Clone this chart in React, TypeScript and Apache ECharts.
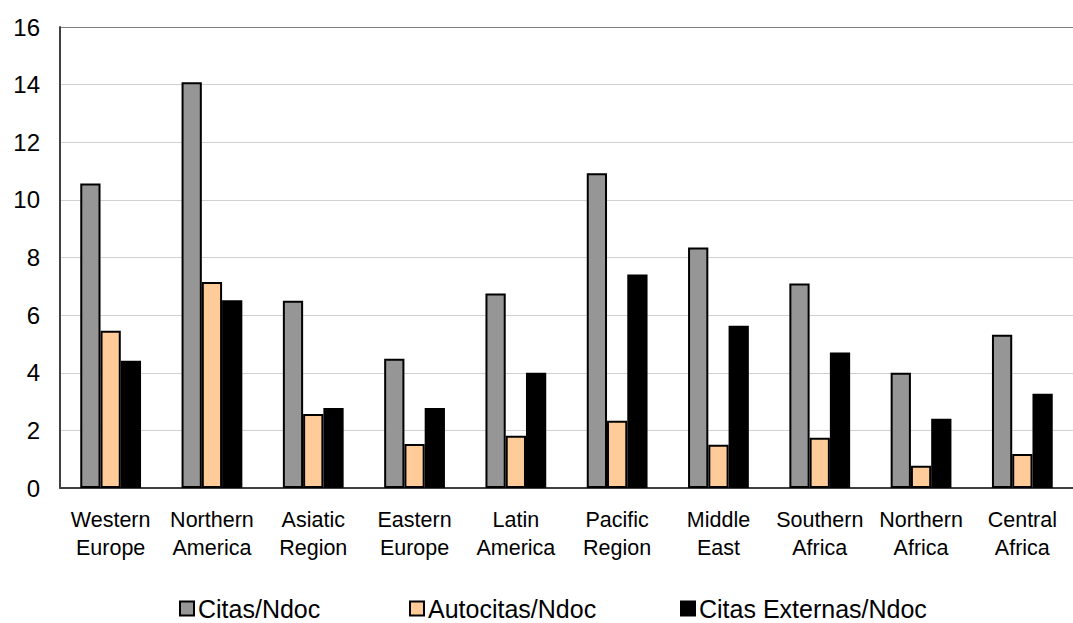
import React, { useEffect, useRef } from "react";
import * as echarts from "echarts";

const categories = [
  "Western\nEurope",
  "Northern\nAmerica",
  "Asiatic\nRegion",
  "Eastern\nEurope",
  "Latin\nAmerica",
  "Pacific\nRegion",
  "Middle\nEast",
  "Southern\nAfrica",
  "Northern\nAfrica",
  "Central\nAfrica",
];
const citas = [10.57, 14.08, 6.5, 4.49, 6.75, 10.92, 8.35, 7.1, 4.0, 5.32];
const autocitas = [5.46, 7.15, 2.57, 1.53, 1.81, 2.33, 1.5, 1.74, 0.77, 1.18];
const externas = [4.42, 6.52, 2.78, 2.78, 4.0, 7.41, 5.63, 4.7, 2.4, 3.27];
const seriesNames = ["Citas/Ndoc", "Autocitas/Ndoc", "Citas Externas/Ndoc"];
const colors = ["#969696", "#FFCC99", "#000000"];
const legendLefts = [179, 409, 680];

export default function App() {
  const ref = useRef<HTMLDivElement>(null);
  useEffect(() => {
    if (!ref.current) return;
    const chart = echarts.init(ref.current, null, { renderer: "svg" });
    const data = [citas, autocitas, externas];
    chart.setOption({
      animation: false,
      textStyle: { fontFamily: "Liberation Sans, Arial, sans-serif", color: "#000" },
      grid: { left: 60, right: 0, top: 27, bottom: 135, containLabel: false },
      legend: seriesNames.map((n, i) => ({
        top: 596,
        left: legendLefts[i],
        icon: "rect",
        itemWidth: 14,
        itemHeight: 14,
        padding: 0,
        textStyle: { fontSize: 25, color: "#000", padding: [0, 0, 0, -1] },
        data: [n],
      })),
      xAxis: {
        type: "category",
        data: categories,
        axisLine: { lineStyle: { color: "#404040", width: 2 } },
        axisTick: { show: false },
        axisLabel: { fontSize: 21.5, color: "#000", lineHeight: 28, margin: 18, interval: 0 },
      },
      yAxis: {
        type: "value",
        min: 0,
        max: 16,
        interval: 2,
        axisLine: { show: true, lineStyle: { color: "#404040", width: 2 } },
        axisTick: { show: false },
        axisLabel: { fontSize: 24, color: "#000", margin: 20 },
        splitLine: {
          lineStyle: {
            color: ["#d0d0d0", "#d0d0d0", "#d0d0d0", "#d0d0d0", "#d0d0d0", "#d0d0d0", "#d0d0d0", "#d0d0d0", "#808080"],
            width: 1,
          },
        },
      },
      series: data.map((d, i) => ({
        name: seriesNames[i],
        type: "bar",
        data: d,
        barGap: "0%",
        barCategoryGap: "40%",
        itemStyle: { color: colors[i], borderColor: "#000", borderWidth: 2 },
      })),
    });
    return () => chart.dispose();
  }, []);
  return <div ref={ref} style={{ width: 1073, height: 623, position: "absolute", left: 0, top: 0 }} />;
}
